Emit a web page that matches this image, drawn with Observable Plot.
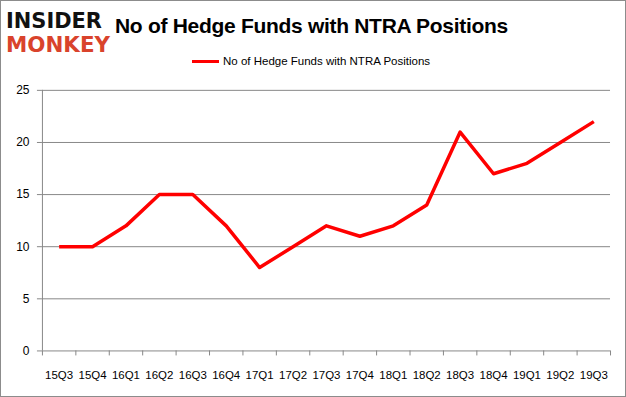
<!DOCTYPE html>
<html><head><meta charset="utf-8">
<script src="https://cdn.jsdelivr.net/npm/d3@7"></script>
<script src="https://cdn.jsdelivr.net/npm/@observablehq/plot@0.6"></script>
<style>
html,body{margin:0;padding:0;background:#fff;}
#wrap{position:relative;width:626px;height:397px;box-sizing:border-box;border:1px solid #8c8c8c;overflow:hidden;font-family:"Liberation Sans",Arial,sans-serif;}
#chart{position:absolute;left:-1px;top:-1px;}
#title{position:absolute;left:114px;top:13px;font-size:21px;font-weight:bold;color:#000;white-space:nowrap;font-family:"Liberation Sans",Arial,sans-serif;letter-spacing:-0.3px;}
#legend{position:absolute;left:191px;top:54px;font-size:11.5px;color:#000;white-space:nowrap;display:flex;align-items:center;}
#legend span.sw{display:inline-block;width:27px;height:3px;background:#ff0000;margin-right:4px;}
#logo{position:absolute;left:4px;top:5px;}
</style></head>
<body>
<div id="wrap">
  <div id="chart"></div>
  <svg id="logo" width="110" height="50">
    <text x="1" y="22" font-family="DejaVu Sans" font-weight="bold" font-size="22" fill="#111" textLength="96" lengthAdjust="spacingAndGlyphs">INSIDER</text>
    <text x="1" y="46" font-family="DejaVu Sans" font-weight="bold" font-size="22" fill="#d9432c" textLength="104" lengthAdjust="spacingAndGlyphs">MONKEY</text>
  </svg>
  <div id="title">No of Hedge Funds with NTRA Positions</div>
  <div id="legend"><span class="sw"></span>No of Hedge Funds with NTRA Positions</div>
</div>
<script>
const quarters = ["15Q3","15Q4","16Q1","16Q2","16Q3","16Q4","17Q1","17Q2","17Q3","17Q4","18Q1","18Q2","18Q3","18Q4","19Q1","19Q2","19Q3"];
const funds = [10,10,12,15,15,12,8,10,12,11,12,14,21,17,18,20,22];
const yTicks = [0,5,10,15,20,25];

const data = quarters.map((q,i)=>({i, q, v: funds[i]}));
const boundaries = d3.range(quarters.length + 1).map(k => k - 0.5);
const centers = d3.range(quarters.length);

const plot = Plot.plot({
  width: 626, height: 397,
  marginLeft: 42, marginRight: 15, marginTop: 90, marginBottom: 46,
  style: {fontFamily: "Liberation Sans, Arial, sans-serif", fontSize: "12px", color: "#000", background: "transparent"},
  x: {type: "linear", domain: [-0.5, quarters.length - 0.5]},
  y: {domain: [0, 25]},
  marks: [
    Plot.gridY(yTicks, {stroke: "#888", strokeOpacity: 1, strokeWidth: 1}),
    Plot.ruleX([-0.5], {stroke: "#888", strokeWidth: 1}),
    Plot.axisY({ticks: yTicks, tickSize: 5, tickPadding: 8, stroke: "#888", label: null, fill: "#000", fontSize: 12}),
    Plot.axisX({ticks: boundaries, tickSize: 5, tickFormat: () => "", stroke: "#888", label: null}),
    Plot.axisX({ticks: centers, tickSize: 0, tickPadding: 20, tickFormat: i => quarters[i], label: null, fill: "#000", fontSize: 11.5}),
    Plot.line(data, {x: "i", y: "v", stroke: "#ff0000", strokeWidth: 3.5, strokeLinejoin: "round", strokeLinecap: "butt"})
  ]
});
document.getElementById("chart").appendChild(plot);
</script>
</body></html>
